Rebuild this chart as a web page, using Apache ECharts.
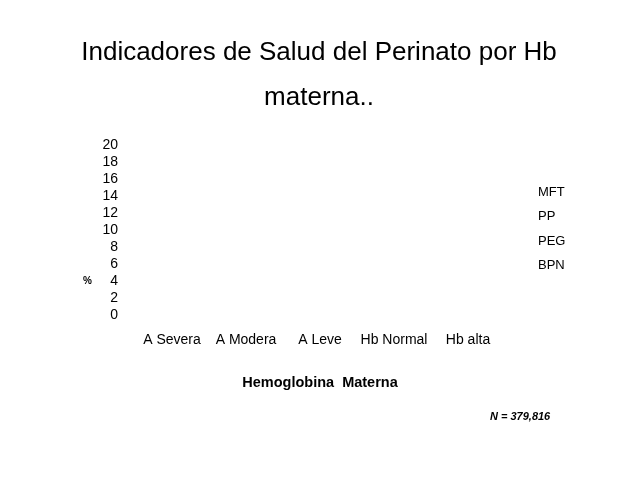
<!DOCTYPE html>
<html>
<head>
<meta charset="utf-8">
<script src="https://cdn.jsdelivr.net/npm/echarts@6/dist/echarts.min.js"></script>
<style>html,body{margin:0;padding:0;background:#fff}#c{width:638px;height:479px}</style>
</head>
<body>
<div id="c"></div>
<script>
var categories = ['A Severa', 'A Modera', 'A Leve', 'Hb Normal', 'Hb alta'];
var seriesNames = ['MFT', 'PP', 'PEG', 'BPN'];
// No bars are visible in the reference picture; values read as empty.
var mftValues = [0, 0, 0, 0, 0];
var ppValues = [0, 0, 0, 0, 0];
var pegValues = [0, 0, 0, 0, 0];
var bpnValues = [0, 0, 0, 0, 0];
var yTicks = [0, 2, 4, 6, 8, 10, 12, 14, 16, 18, 20];

var F = '"Liberation Sans", Arial, sans-serif';
var valuesByName = {MFT: mftValues, PP: ppValues, PEG: pegValues, BPN: bpnValues};

var chart = echarts.init(document.getElementById('c'), null, {renderer: 'canvas'});
chart.setOption({
  backgroundColor: '#fff',
  animation: false,
  title: {
    text: 'Indicadores de Salud del Perinato por Hb\nmaterna..',
    left: 'center',
    top: 25,
    textStyle: {fontFamily: F, fontSize: 26, fontWeight: 'normal', color: '#000', lineHeight: 45}
  },
  legend: {
    orient: 'vertical',
    left: 518,
    top: 180,
    itemWidth: 10,
    itemHeight: 14,
    itemGap: 10.5,
    data: seriesNames,
    itemStyle: {opacity: 0},
    textStyle: {fontFamily: F, fontSize: 13, color: '#000'}
  },
  grid: {left: 135, top: 145, width: 370, height: 170, containLabel: false},
  xAxis: {
    type: 'category',
    data: categories,
    axisLine: {show: false},
    axisTick: {show: false},
    axisLabel: {fontFamily: F, fontSize: 14, color: '#000', margin: 18, interval: 0},
    name: 'Hemoglobina  Materna',
    nameLocation: 'middle',
    nameGap: 60,
    nameTextStyle: {fontFamily: F, fontSize: 14.5, fontWeight: 'bold', color: '#000'}
  },
  yAxis: {
    type: 'value',
    min: yTicks[0],
    max: yTicks[yTicks.length - 1],
    interval: 2,
    axisLine: {show: false},
    axisTick: {show: false},
    splitLine: {show: false},
    axisLabel: {fontFamily: F, fontSize: 14, color: '#000', margin: 17}
  },
  graphic: [
    {type: 'text', left: 490, top: 411,
     style: {text: 'N = 379,816', font: 'italic bold 11px ' + F, fill: '#000'}},
    {type: 'text', left: 83, top: 276,
     style: {text: '%', font: 'bold 10px ' + F, fill: '#000'}}
  ],
  series: seriesNames.map(function (n) {
    return {name: n, type: 'bar', data: valuesByName[n]};
  })
});
</script>
</body>
</html>
